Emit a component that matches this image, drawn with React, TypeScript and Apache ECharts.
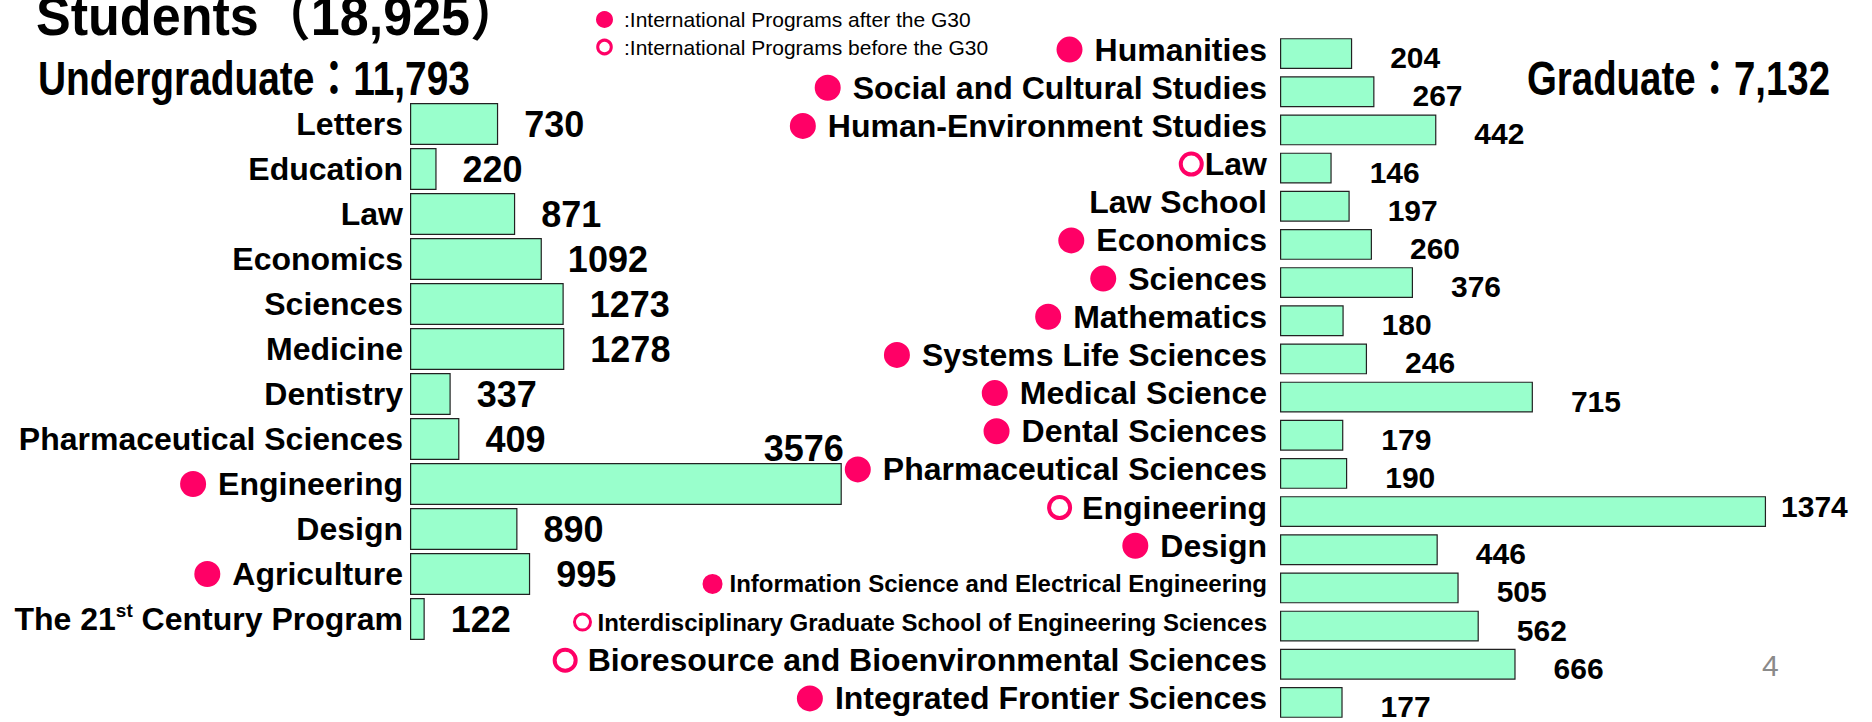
import React, { useEffect, useRef } from "react";
import * as echarts from "echarts";

// ---------- data ----------
const leftCats = [
  "Letters",
  "Education",
  "Law",
  "Economics",
  "Sciences",
  "Medicine",
  "Dentistry",
  "Pharmaceutical Sciences",
  "Engineering",
  "Design",
  "Agriculture",
  "The 21st Century Program",
];
const leftValues = [730, 220, 871, 1092, 1273, 1278, 337, 409, 3576, 890, 995, 122];
const leftMarks = ["", "", "", "", "", "", "", "", "dot", "", "dot", ""];

const rightCats = [
  "Humanities",
  "Social and Cultural Studies",
  "Human-Environment Studies",
  "Law",
  "Law School",
  "Economics",
  "Sciences",
  "Mathematics",
  "Systems Life Sciences",
  "Medical Science",
  "Dental Sciences",
  "Pharmaceutical Sciences",
  "Engineering",
  "Design",
  "Information Science and Electrical Engineering",
  "Interdisciplinary Graduate School of Engineering Sciences",
  "Bioresource and Bioenvironmental Sciences",
  "Integrated Frontier Sciences",
];
const rightValues = [204, 267, 442, 146, 197, 260, 376, 180, 246, 715, 179, 190, 1374, 446, 505, 562, 666, 177];
const rightMarks = [
  "dot", "dot", "dot", "ringTight", "", "dot", "dot", "dot", "dot", "dot", "dot", "dot",
  "ring", "dot", "sdot", "sring", "ring", "dot",
];

const legendItems = [
  { mark: "dot", text: ":International Programs after the G30" },
  { mark: "ring", text: ":International Programs before the G30" },
];
const pageNumber = "4";

// ---------- styles ----------
const PINK = "#FF0066";
const BAR = "#99FFCC";
const FONT = '"Liberation Sans", Arial, "Noto Sans CJK JP", sans-serif';
const TITLE_FONT = '"Liberation Sans", "Noto Sans CJK JP", sans-serif';

const sum = (a: number[]) => a.reduce((s, v) => s + v, 0);
const fmt = (n: number) => n.toLocaleString("en-US");

const rich = {
  dot: { width: 26, height: 26, borderRadius: 13, backgroundColor: PINK },
  ring: { width: 21, height: 21, borderRadius: 11, borderColor: PINK, borderWidth: 4 },
  sdot: { width: 20, height: 20, borderRadius: 10, backgroundColor: PINK },
  sring: { width: 16, height: 16, borderRadius: 8, borderColor: PINK, borderWidth: 3 },
  gap: { width: 12 },
  sgap: { width: 7 },
  tgap: { width: 3 },
  small: { fontSize: 24, fontWeight: "bold", fontFamily: FONT, color: "#000" },
  sup: { fontSize: 19, fontWeight: "bold", fontFamily: FONT, color: "#000", verticalAlign: "top", lineHeight: 36 },
};

function labelFormatter(marks: string[]) {
  return (value: string, idx: number) => {
    const m = marks[idx];
    let txt = value.replace("21st", "21{sup|st}");
    if (m === "sdot" || m === "sring") txt = "{small|" + txt + "}";
    let prefix = "";
    if (m === "dot") prefix = "{dot|}{gap|}";
    else if (m === "ring") prefix = "{ring|}{gap|}";
    else if (m === "ringTight") prefix = "{ring|}{tgap|}";
    else if (m === "sdot") prefix = "{sdot|}{sgap|}";
    else if (m === "sring") prefix = "{sring|}{sgap|}";
    return prefix + txt;
  };
}

export default function App() {
  const ref = useRef<HTMLDivElement>(null);

  useEffect(() => {
    if (!ref.current) return;
    const chart = echarts.init(ref.current, null, { renderer: "svg" });

    const leftData = leftValues.map((v, i) =>
      leftCats[i] === "Engineering"
        ? {
            value: v,
            label: { position: ["100%", 0], align: "right", verticalAlign: "bottom", offset: [2, 3] },
          }
        : v
    );
    const rightData = rightValues.map((v, i) =>
      rightCats[i] === "Engineering"
        ? { value: v, label: { distance: 15, offset: [0, -5] } }
        : v
    );

    const total = sum(leftValues) + sum(rightValues);

    const axisLabelBase = {
      interval: 0,
      fontSize: 32,
      fontWeight: "bold",
      color: "#000",
      fontFamily: FONT,
      rich,
    };

    chart.setOption({
      animation: false,
      backgroundColor: "#fff",
      grid: [
        { left: 410, top: 101.5, width: 483, height: 540 },
        { left: 1280, top: 34.5, width: 530.6, height: 687 },
      ],
      xAxis: [
        { type: "value", gridIndex: 0, min: 0, max: 4000, show: false },
        { type: "value", gridIndex: 1, min: 0, max: 1500, show: false },
      ],
      yAxis: [
        {
          type: "category",
          gridIndex: 0,
          inverse: true,
          data: leftCats,
          axisLine: { show: false },
          axisTick: { show: false },
          axisLabel: { ...axisLabelBase, margin: 7, formatter: labelFormatter(leftMarks) },
        },
        {
          type: "category",
          gridIndex: 1,
          inverse: true,
          data: rightCats,
          axisLine: { show: false },
          axisTick: { show: false },
          axisLabel: {
            ...axisLabelBase,
            margin: 13,
            padding: [0, 0, 8, 0],
            formatter: labelFormatter(rightMarks),
          },
        },
      ],
      series: [
        {
          type: "bar",
          xAxisIndex: 0,
          yAxisIndex: 0,
          data: leftData,
          barCategoryGap: "7%",
          silent: true,
          itemStyle: { color: BAR, borderColor: "#222", borderWidth: 1.2 },
          label: {
            show: true,
            position: "right",
            distance: 26,
            fontSize: 36,
            fontWeight: "bold",
            color: "#000",
            fontFamily: FONT,
          },
        },
        {
          type: "bar",
          xAxisIndex: 1,
          yAxisIndex: 1,
          data: rightData,
          barCategoryGap: "19%",
          silent: true,
          itemStyle: { color: BAR, borderColor: "#222", borderWidth: 1.2 },
          label: {
            show: true,
            position: "right",
            distance: 38,
            offset: [0, 4],
            fontSize: 30,
            fontWeight: "bold",
            color: "#000",
            fontFamily: FONT,
          },
        },
      ],
      graphic: [
        {
          type: "text",
          x: 36,
          y: 15,
          scaleX: 0.93,
          style: {
            text: "Students（" + fmt(total) + "）",
            fontSize: 56,
            fontWeight: "bold",
            fontFamily: TITLE_FONT,
            fill: "#000",
            verticalAlign: "middle",
          },
        },
        {
          type: "text",
          x: 38,
          y: 78,
          scaleX: 0.81,
          style: {
            text: "Undergraduate：" + fmt(sum(leftValues)),
            fontSize: 48,
            fontWeight: "bold",
            fontFamily: TITLE_FONT,
            fill: "#000",
            verticalAlign: "middle",
          },
        },
        {
          type: "text",
          x: 1527,
          y: 78,
          scaleX: 0.8,
          style: {
            text: "Graduate：" + fmt(sum(rightValues)),
            fontSize: 48,
            fontWeight: "bold",
            fontFamily: TITLE_FONT,
            fill: "#000",
            verticalAlign: "middle",
          },
        },
        ...legendItems.flatMap((it, i) => {
          const cy = 19.5 + i * 27.5;
          return [
            it.mark === "dot"
              ? { type: "circle", shape: { cx: 604.5, cy, r: 8.5 }, style: { fill: PINK } }
              : {
                  type: "circle",
                  shape: { cx: 604.5, cy, r: 6.8 },
                  style: { fill: "none", stroke: PINK, lineWidth: 3 },
                },
            {
              type: "text",
              x: 624,
              y: cy,
              style: {
                text: it.text,
                fontSize: 21,
                fontFamily: FONT,
                fill: "#000",
                verticalAlign: "middle",
              },
            },
          ];
        }),
        {
          type: "text",
          x: 1762,
          y: 665,
          style: {
            text: pageNumber,
            fontSize: 30,
            fontFamily: FONT,
            fill: "#8a8a8a",
            verticalAlign: "middle",
          },
        },
      ],
    });

    return () => chart.dispose();
  }, []);

  return (
    <div
      ref={ref}
      style={{ position: "absolute", left: 0, top: 0, width: 1872, height: 722, background: "#fff" }}
    />
  );
}
